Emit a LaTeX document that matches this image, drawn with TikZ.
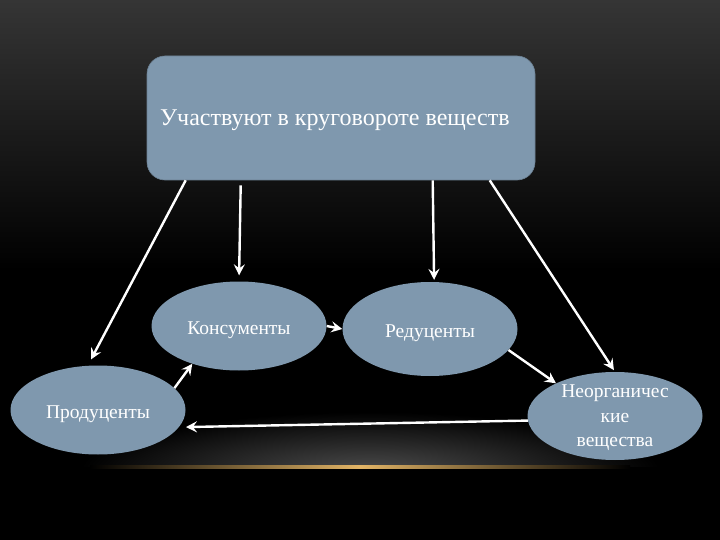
\documentclass[tikz,border=0pt]{standalone}
\usepackage{fontspec}
\setmainfont{Liberation Serif}
\usetikzlibrary{arrows.meta,shapes.geometric,calc}
\definecolor{boxfill}{HTML}{7F98AE}
\definecolor{goldglow}{HTML}{E2B466}
\definecolor{topgrey}{HTML}{353535}
\begin{document}
\begin{tikzpicture}[x=1pt,y=-1pt,
  ell/.style={ellipse, fill=boxfill, minimum width=175, minimum height=89, inner sep=0pt, text=white, font=\fontsize{19.5}{24.5}\selectfont, align=center},
  oneline/.style={text height=17pt, text depth=0pt},
  topbox/.style={rounded corners=18pt, fill=boxfill, draw=boxfill!85!black, line width=0.6pt, minimum width=388, minimum height=124, inner sep=0pt},
  toptext/.style={text=white, font=\fontsize{24}{28}\selectfont, inner sep=0pt},
  arr/.style={draw=white, line width=2.4pt, -{Stealth[length=11pt,width=11pt,inset=4pt]}}]
\useasboundingbox (0,0) rectangle (720,540);
% background
\fill[black] (0,0) rectangle (720,540);
\shade[top color=topgrey, bottom color=black] (0,0) rectangle (720,270);
\begin{scope}
  \clip (0,380) rectangle (720,466);
  \shade[inner color=black!70!white, outer color=black] (370,472) ellipse [x radius=290, y radius=60];
\end{scope}
\shade[left color=black, right color=black, middle color=goldglow] (90,465.5) rectangle (630,468.5);
% nodes
\node[topbox] (top) at (341,118) {};
\node[toptext, anchor=west] (toptxt) at (160,120) {Участвуют в круговороте веществ};
\node[ell, oneline] (kons) at (239,326) {Консументы};
\node[ell, oneline] (prod) at (98,410) {Продуценты};
\node[ell, oneline, minimum height=94] (red) at (430,329) {Редуценты};
\node[ell, minimum height=88, text depth=0pt] (neo) at (615,416) {Неорганичес\\кие\\вещества};
% connectors
\draw[arr, shorten >=7pt] ($(top.south west)+(39,0)$) -- (prod.103);
\draw[arr, shorten >=6pt] ($(top.south west)+(94,5)$) -- (kons.north);
\draw[arr, shorten >=2pt] ($(top.south west)+(286,0)$) -- (red.85);
\draw[arr, shorten >=2pt] ($(top.south west)+(343,0)$) -- (neo.north);
\draw[arr] (kons.east) -- (red.180);
\draw[arr] (prod.16) -- (kons.219);
\draw[arr] (red.345) -- (neo.151);
\draw[arr, shorten >=7pt] (neo.183) -- (prod.-12);
\end{tikzpicture}
\end{document}
